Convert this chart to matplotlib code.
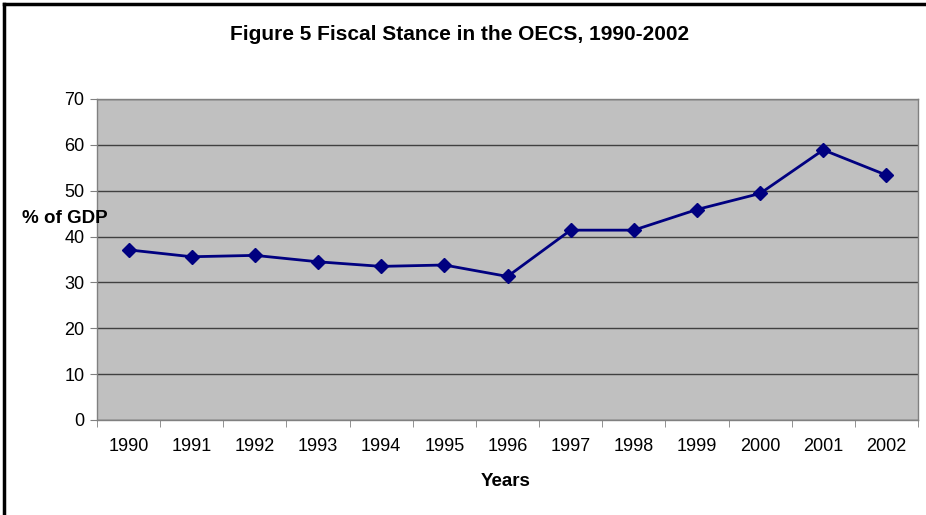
import matplotlib
matplotlib.use("Agg")
import matplotlib.pyplot as plt
from matplotlib.lines import Line2D
import numpy as np

plt.rcParams['font.family'] = ['Liberation Sans', 'DejaVu Sans']

years = ["1990", "1991", "1992", "1993", "1994", "1995", "1996",
         "1997", "1998", "1999", "2000", "2001", "2002"]
pct_gdp = [37.1, 35.6, 35.9, 34.5, 33.5, 33.8, 31.3,
           41.4, 41.4, 45.9, 49.4, 58.9, 53.4]
y_ticks = [0, 10, 20, 30, 40, 50, 60, 70]

fig = plt.figure(figsize=(9.26, 5.15), dpi=100)
ax = fig.add_axes([97/926, 1-420/515, (918-97)/926, (420-99)/515])
ax.set_facecolor('#C0C0C0')

x = np.arange(len(years))
ax.plot(x, pct_gdp, color='#000080', linewidth=2, marker='D', markersize=7,
        markerfacecolor='#000080', markeredgecolor='#000080', zorder=3)

ax.set_xlim(-0.5, len(years) - 0.5)
ax.set_ylim(0, 70)
ax.set_yticks(y_ticks)
ax.set_yticklabels([str(v) for v in y_ticks], fontsize=13)
ax.yaxis.grid(True, color='#404040', linewidth=1)
ax.set_axisbelow(True)

ax.set_xticks(x)
ax.set_xticklabels(years, fontsize=13)
ax.set_xticks(np.arange(-0.5, len(years), 1), minor=True)
ax.tick_params(axis='x', which='major', length=0, pad=13)
ax.tick_params(axis='x', which='minor', length=5, color='#808080', direction='out')
ax.tick_params(axis='y', length=5, color='#808080', pad=4)

for s in ax.spines.values():
    s.set_color('#808080')
    s.set_linewidth(1)

fig.text(460/926, 1-35/515, "Figure 5 Fiscal Stance in the OECS, 1990-2002",
         ha='center', va='center', fontsize=15, fontweight='bold')
fig.text(65/926, 1-219/515, "% of GDP", ha='center', va='center',
         fontsize=13.5, fontweight='bold')
fig.text(506/926, 1-481/515, "Years", ha='center', va='center',
         fontsize=13.5, fontweight='bold')

# figure border (left and top visible)
fig.add_artist(Line2D([4/926, 4/926], [0, 1-4/515], transform=fig.transFigure,
                      color='black', linewidth=2.5))
fig.add_artist(Line2D([4/926, 1], [1-4/515, 1-4/515], transform=fig.transFigure,
                      color='black', linewidth=2.5))

fig.savefig('out.png', dpi=100)
